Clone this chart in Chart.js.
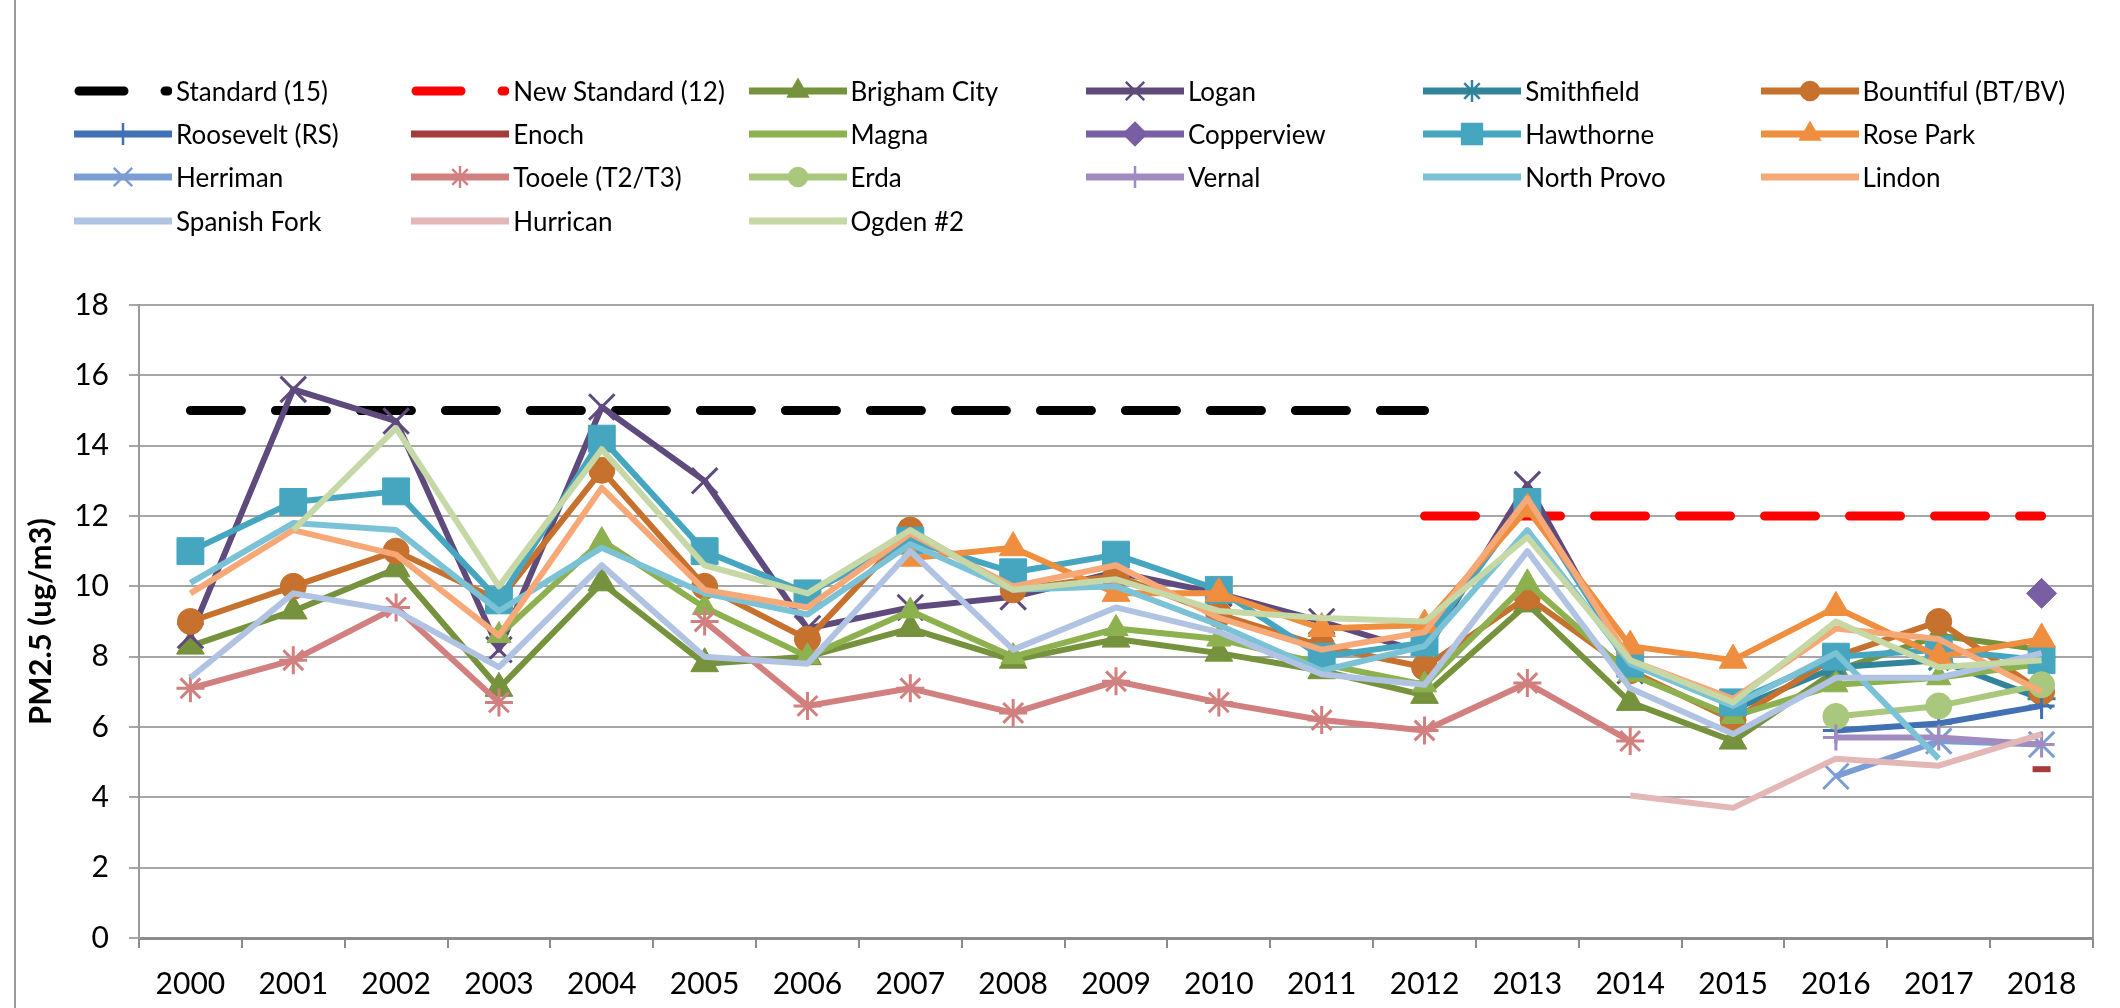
<!DOCTYPE html>
<html>
<head>
<meta charset="utf-8">
<script src="https://cdn.jsdelivr.net/npm/chart.js@4.4.1/dist/chart.umd.min.js"></script>
<style>
  html, body { margin: 0; padding: 0; background: #fff; }
  #wrap { position: relative; width: 2120px; height: 1008px; overflow: hidden; }
  #frame { position: absolute; left: 14px; top: 0; width: 0; height: 1008px; border-left: 2px solid #9a9a9a; }
  #legend { position: absolute; left: 0; top: 0; width: 2120px; height: 260px; }
  .item { position: absolute; height: 30px; display: flex; align-items: center; white-space: nowrap; }
  .item span { font-family: Lato, sans-serif; font-size: 26px; color: #000; margin-left: 4px; }
</style>
</head>
<body>
<div id="wrap">
  <canvas id="pmChart" width="2120" height="1008"></canvas>
  <div id="frame"></div>
  <div id="legend"></div>
</div>
<script>
const years = ['2000', '2001', '2002', '2003', '2004', '2005', '2006', '2007', '2008', '2009',
    '2010', '2011', '2012', '2013', '2014', '2015', '2016', '2017', '2018'];

// annual PM2.5 averages (ug/m3), one value per year, null = no data
const standard15 = [15, 15, 15, 15, 15, 15, 15, 15, 15, 15, 15, 15, 15, null, null, null, null, null, null];
const newStandard12 = [null, null, null, null, null, null, null, null, null, null, null, null, 12, 12, 12, 12, 12, 12, 12];
const brighamCity = [8.3, 9.3, 10.5, 7.1, 10.1, 7.8, 8.0, 8.8, 7.9, 8.5, 8.1, 7.6, 6.9, 9.5, 6.7, 5.6, 7.6, 8.6, 8.2];
const logan = [8.6, 15.6, 14.7, 8.2, 15.1, 13.0, 8.8, 9.4, 9.7, 10.4, 9.8, 9.0, 8.1, 12.9, 7.6, null, null, null, null];
const smithfield = [null, null, null, null, null, null, null, null, null, null, null, null, null, null, null, 6.5, 7.7, 7.9, 6.8];
const bountiful = [9.0, 10.0, 11.0, 9.6, 13.3, 10.0, 8.5, 11.6, 9.9, 10.3, 9.2, 8.3, 7.7, 9.7, 7.6, 6.2, 8.0, 9.0, 7.0];
const roosevelt = [null, null, null, null, null, null, null, null, null, null, null, null, null, null, null, null, 5.9, 6.1, 6.6];
const enoch = [null, null, null, null, null, null, null, null, null, null, null, null, null, null, null, null, null, null, 4.8];
const magna = [null, null, null, 8.6, 11.3, 9.4, 8.0, 9.3, 8.0, 8.8, 8.5, 7.8, 7.2, 10.1, 7.5, 6.3, 7.2, 7.4, 7.8];
const copperview = [null, null, null, null, null, null, null, null, null, null, null, null, null, null, null, null, null, null, 9.8];
const hawthorne = [11.0, 12.4, 12.7, 9.6, 14.2, 11.0, 9.8, 11.3, 10.4, 10.9, 9.9, 8.0, 8.4, 12.4, 7.8, 6.7, 8.0, 8.2, 7.9];
const rosePark = [null, null, null, null, null, null, null, 10.8, 11.1, 9.8, 9.8, 8.8, 8.9, 12.2, 8.3, 7.9, 9.4, 8.0, 8.5];
const herriman = [null, null, null, null, null, null, null, null, null, null, null, null, null, null, null, null, 4.6, 5.6, 5.5];
const tooele = [7.1, 7.9, 9.4, 6.7, null, 9.0, 6.6, 7.1, 6.4, 7.3, 6.7, 6.2, 5.9, 7.25, 5.6, null, null, null, null];
const erda = [null, null, null, null, null, null, null, null, null, null, null, null, null, null, null, null, 6.3, 6.6, 7.2];
const vernal = [null, null, null, null, null, null, null, null, null, null, null, null, null, null, null, null, 5.7, 5.7, 5.5];
const northProvo = [10.1, 11.8, 11.6, 9.3, 11.1, 9.8, 9.2, 11.2, 9.9, 10.0, 8.9, 7.6, 8.3, 11.6, 7.8, 6.6, 8.1, 5.1, null];
const lindon = [9.8, 11.6, 10.9, 8.6, 12.8, 9.9, 9.4, 11.5, 10.0, 10.6, 9.1, 8.2, 8.7, 12.5, 7.9, 6.8, 8.8, 8.5, 7.0];
const spanishFork = [7.4, 9.8, 9.3, 7.7, 10.6, 8.0, 7.8, 11.0, 8.2, 9.4, 8.7, 7.5, 7.2, 11.0, 7.1, 5.8, 7.4, 7.4, 8.1];
const hurrican = [null, null, null, null, null, null, null, null, null, null, null, null, null, null, 4.05, 3.7, 5.1, 4.9, 5.8];
const ogden2 = [null, 11.6, 14.5, 10.0, 13.9, 10.6, 9.8, 11.6, 9.9, 10.2, 9.3, 9.1, 9.0, 11.4, 7.9, 6.7, 9.0, 7.7, 7.9];

const yTicks = [0, 2, 4, 6, 8, 10, 12, 14, 16, 18];

// legend / draw order follows the original workbook
const series = [
    { label: 'Standard (15)', data: standard15, color: '#000000', dash: true },
    { label: 'New Standard (12)', data: newStandard12, color: '#ff0000', dash: true },
    { label: 'Brigham City', data: brighamCity, color: '#76923c', marker: 'triangle', r: 16, lr: 11 },
    { label: 'Logan', data: logan, color: '#5f4a7d', marker: 'crossRot', r: 18, lr: 13, thin: true },
    { label: 'Smithfield', data: smithfield, color: '#31849b', marker: 'star', r: 14, lr: 11, thin: true },
    { label: 'Bountiful (BT/BV)', data: bountiful, color: '#c6712e', marker: 'circle', r: 13, lr: 9 },
    { label: 'Roosevelt (RS)', data: roosevelt, color: '#4170b4', marker: 'cross', r: 13, lr: 11, thin: true },
    { label: 'Enoch', data: enoch, color: '#a33c3a', marker: 'line', r: 9, lr: 0 },
    { label: 'Magna', data: magna, color: '#8db14e', marker: 'triangle', r: 14, lr: 0 },
    { label: 'Copperview', data: copperview, color: '#7a5ea3', marker: 'rectRot', r: 15, lr: 11 },
    { label: 'Hawthorne', data: hawthorne, color: '#46a6c0', marker: 'rect', r: 19, lr: 14 },
    { label: 'Rose Park', data: rosePark, color: '#ee8e3e', marker: 'triangle', r: 16, lr: 11 },
    { label: 'Herriman', data: herriman, color: '#7c9dd3', marker: 'crossRot', r: 18, lr: 13, thin: true },
    { label: 'Tooele (T2/T3)', data: tooele, color: '#d2807f', marker: 'star', r: 14, lr: 11, thin: true },
    { label: 'Erda', data: erda, color: '#a9c77d', marker: 'circle', r: 13, lr: 9 },
    { label: 'Vernal', data: vernal, color: '#a08cc0', marker: 'cross', r: 13, lr: 11, thin: true },
    { label: 'North Provo', data: northProvo, color: '#7cc2d7' },
    { label: 'Lindon', data: lindon, color: '#f7a877' },
    { label: 'Spanish Fork', data: spanishFork, color: '#b1c3e3' },
    { label: 'Hurrican', data: hurrican, color: '#e3b7b6' },
    { label: 'Ogden #2', data: ogden2, color: '#c5d8a6' }
];

Chart.defaults.font.family = 'Lato, sans-serif';
Chart.defaults.color = '#000';

const datasets = series.map((s, i) => ({
    label: s.label,
    data: s.data,
    borderColor: s.color,
    backgroundColor: s.color,
    borderWidth: s.dash ? 9 : 6,
    borderDash: s.dash ? [51, 34] : [],
    borderCapStyle: s.dash ? 'round' : 'butt',
    borderJoinStyle: 'round',
    pointStyle: s.marker || false,
    pointRadius: s.marker ? s.r : 0,
    pointHoverRadius: s.marker ? s.r : 0,
    pointBorderWidth: s.marker === 'line' ? 6 : (s.thin ? 3 : 1),
    pointBackgroundColor: s.color,
    pointBorderColor: s.color,
    tension: 0,
    spanGaps: false,
    fill: false,
    order: series.length - i // later series on top, like Excel
}));

const ctx = document.getElementById('pmChart').getContext('2d');
new Chart(ctx, {
    type: 'line',
    data: { labels: years, datasets: datasets },
    options: {
        responsive: false,
        animation: false,
        devicePixelRatio: 1,
        layout: { padding: { left: 0, right: 27, top: 305, bottom: 0 } },
        plugins: { legend: { display: false }, tooltip: { enabled: false } },
        scales: {
            x: {
                offset: true,
                grid: { offset: true, drawOnChartArea: false, drawTicks: true, tickLength: 10, color: '#8c8c8c', lineWidth: 2 },
                border: { display: true, color: '#8c8c8c', width: 3 },
                ticks: { font: { size: 30 }, padding: 18, color: '#000', maxRotation: 0, autoSkip: false },
                afterFit: (scale) => { scale.height = 70; }
            },
            y: {
                min: 0,
                max: 18,
                afterBuildTicks: (scale) => { scale.ticks = yTicks.map(v => ({ value: v })); },
                grid: { color: '#a6a6a6', lineWidth: 2, drawTicks: true, tickLength: 10 },
                border: { display: true, color: '#9a9a9a', width: 2 },
                ticks: { font: { size: 30 }, padding: 20, color: '#000' },
                title: { display: true, text: 'PM2.5 (ug/m3)', font: { size: 31, weight: 'bold' }, color: '#000', padding: { top: 22, bottom: 0 } },
                afterFit: (scale) => { scale.width = 139; }
            },
            yRight: {
                position: 'right',
                min: 0,
                max: 18,
                grid: { drawOnChartArea: false, drawTicks: false },
                border: { display: true, color: '#9a9a9a', width: 2 },
                ticks: { display: false },
                afterFit: (scale) => { scale.width = 0; }
            }
        }
    }
});

// html legend, 6 columns like the original
const legendEl = document.getElementById('legend');
const colStart = 74, colStep = 337.3;
const rowCenters = [90.6, 133.9, 177.2, 220.5];

function drawSample(cv, s) {
    const c = cv.getContext('2d');
    c.strokeStyle = s.color;
    c.fillStyle = s.color;
    c.lineWidth = s.dash ? 9 : 7;
    c.lineCap = s.dash ? 'round' : 'butt';
    if (s.dash) c.setLineDash([45, 41]);
    c.beginPath();
    c.moveTo(s.dash ? 5 : 0, 15);
    c.lineTo(s.dash ? 94 : 98, 15);
    c.stroke();
    c.setLineDash([]);
    if (s.marker && s.lr && Chart.helpers && Chart.helpers.drawPoint) {
        c.lineWidth = 2.5;
        Chart.helpers.drawPoint(c, { pointStyle: s.marker, radius: s.lr, borderWidth: 2.5, rotation: 0 }, 49, 15);
    }
}

series.forEach((s, i) => {
    const col = i % 6, row = Math.floor(i / 6);
    const item = document.createElement('div');
    item.className = 'item';
    item.style.left = (colStart + col * colStep) + 'px';
    item.style.top = (rowCenters[row] - 15) + 'px';
    const cv = document.createElement('canvas');
    cv.width = 98;
    cv.height = 30;
    drawSample(cv, s);
    const txt = document.createElement('span');
    txt.textContent = s.label;
    item.appendChild(cv);
    item.appendChild(txt);
    legendEl.appendChild(item);
});
</script>
</body>
</html>
